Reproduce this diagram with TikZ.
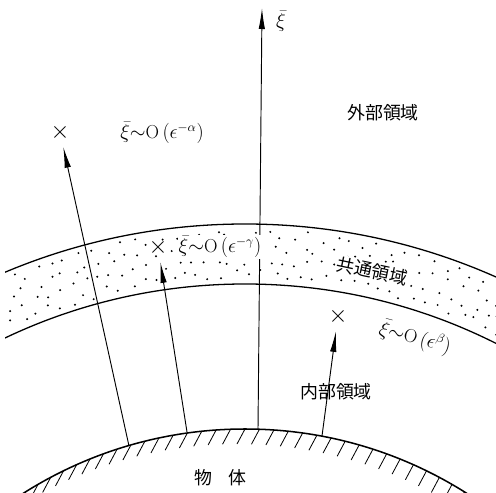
\documentclass[tikz,border=0pt]{standalone}
\usepackage{amsmath}
\usepackage{fontspec}
\newfontfamily\jpfont{Noto Sans CJK JP}
\usetikzlibrary{arrows.meta, calc}

\begin{document}
\begin{tikzpicture}[
    x=0.03cm, y=0.03cm,
    boundary/.style={line width=1.1pt},
    body/.style={line width=1.3pt},
    hatch/.style={line width=0.7pt},
    ray/.style={line width=0.8pt},
    arrow/.style={ray, -{Latex[length=6.3mm, width=1.9mm]}},
    crossarrow/.style={arrow, shorten >=0.2cm},
    cross/.style={inner sep=0pt, font=\fontsize{20}{22}\selectfont},
    region/.style={font=\jpfont\fontsize{15.3}{18}\selectfont, inner sep=1pt},
    order/.style={font=\fontsize{16}{18}\selectfont, inner sep=1pt}
]
    \useasboundingbox (0,0) rectangle (496,492);
    \clip (0,0) rectangle (496,492);
    \coordinate (center) at (245,-351);

    % Common region: stippled band
    \begin{scope}
        \clip (5,0) rectangle (496,492);
        \pgfmathsetseed{7}
        \foreach \row in {0,...,3}
            \foreach \k in {0,...,42} {
                \pgfmathsetmacro{\ang}{62.3+1.3*\k+0.65*mod(\row,2)+0.45*rand}
                \pgfmathsetmacro{\rad}{569+13.5*\row+4.5*rand}
                \fill ($(center)+(\ang:\rad)$) circle[radius=0.95pt];
            }
        \draw[boundary] (center) circle[radius=619];
        \draw[boundary] (center) circle[radius=559];
    \end{scope}

    % Body surface with hatching
    \draw[body] (center) circle[radius=414];
    \foreach \a in {58,60,...,122}
        \draw[hatch] ($(center)+(\a:414)$) -- ++(-8,-15);

    % Points on the body
    \coordinate (b1) at (129,46);
    \coordinate (b2) at (187,60);
    \coordinate (b3) at (258,63);
    \coordinate (b4) at (322,56);
    \coordinate (axistip) at (262,484);

    % Crosses
    \node[cross] (cross1) at (60,360) {$\times$};
    \node[cross] (cross2) at (158,245) {$\times$};
    \node[cross] (cross3) at (338,176) {$\times$};

    % Rays
    \draw[crossarrow] (b1) -- (cross1);
    \draw[crossarrow] (b2) -- (cross2);
    \draw[arrow] (b3) -- (axistip);
    \draw[crossarrow] (b4) -- (cross3);

    % Labels
    \node[order] (xilabel) at (281,471) {$\bar{\xi}$};
    \node[region] (outer) at (383,379) {外部領域};
    \node[order] (alpha) at (162,359) {$\bar{\xi}{\sim}\mathrm{O}\,(\epsilon^{-\alpha})$};
    \node[order, fill=white] (gamma) at (220,245) {$\bar{\xi}{\sim}\mathrm{O}\,(\epsilon^{-\gamma})$};
    \node[region, fill=white, rotate=-12] (common) at (372,221) {共通領域};
    \node[order, rotate=-15] (beta) at (415,154) {$\bar{\xi}{\sim}\mathrm{O}\,(\epsilon^{\beta})$};
    \node[region] (inner) at (336,100) {内部領域};
    \node[region] (bodylabel) at (220,14) {物\hspace{0.9em}体};

\end{tikzpicture}
\end{document}
